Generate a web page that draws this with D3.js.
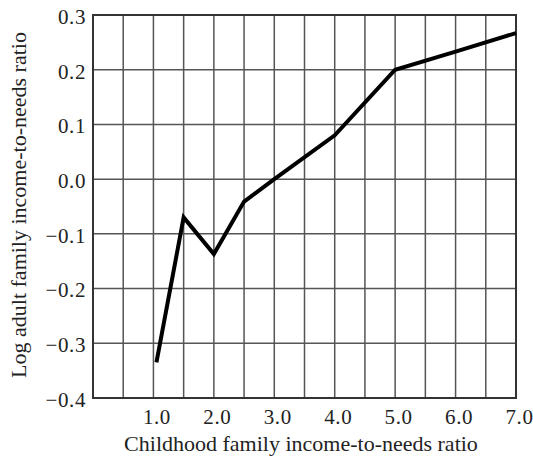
<!DOCTYPE html>
<html><head><meta charset="utf-8">
<script src="https://cdn.jsdelivr.net/npm/d3@7"></script>
<style>body{margin:0;background:#fff}svg{display:block}text{font-family:"Liberation Serif","Times New Roman",serif;fill:#222}</style>
</head><body><div id="chart"></div>
<script>
const xValues = [1.05, 1.5, 2.0, 2.5, 3.0, 4.0, 5.0, 6.0, 7.0];
const yValues = [-0.335, -0.07, -0.137, -0.041, 0.0, 0.08, 0.2, 0.233, 0.267];
const xTicks = [1, 2, 3, 4, 5, 6, 7];
const yTicks = [-0.4, -0.3, -0.2, -0.1, 0.0, 0.1, 0.2, 0.3];
const xTitle = "Childhood family income-to-needs ratio";
const yTitle = "Log adult family income-to-needs ratio";

const W = 533, H = 457;
const m = {left: 93, right: 17, top: 15, bottom: 59};
const svg = d3.select("#chart").append("svg").attr("width", W).attr("height", H);
const x = d3.scaleLinear().domain([0, 7]).range([m.left, W - m.right]);
const y = d3.scaleLinear().domain([-0.4, 0.3]).range([H - m.bottom, m.top]);

const g = svg.append("g");
const vGrid = d3.range(1, 14).map(i => i * 0.5);
g.selectAll(".vg").data(vGrid).join("line")
  .attr("x1", d => x(d)).attr("x2", d => x(d))
  .attr("y1", y(-0.4)).attr("y2", y(0.3))
  .attr("stroke", "#555").attr("stroke-width", 1.5);
g.selectAll(".hg").data(yTicks.slice(1, -1)).join("line")
  .attr("y1", d => y(d)).attr("y2", d => y(d))
  .attr("x1", x(0)).attr("x2", x(7))
  .attr("stroke", "#555").attr("stroke-width", 1.5);
g.append("rect").attr("x", x(0)).attr("y", y(0.3))
  .attr("width", x(7) - x(0)).attr("height", y(-0.4) - y(0.3))
  .attr("fill", "none").attr("stroke", "#333").attr("stroke-width", 2);

const fmt = d => { const s = d3.format(".1f")(Math.abs(d)); return (d < -1e-9 ? "\u2212" : "") + s; };
const xAxis = d3.axisBottom(x).tickValues(xTicks).tickFormat(d3.format(".1f")).tickSize(0).tickPadding(11);
const yAxis = d3.axisLeft(y).tickValues(yTicks).tickFormat(fmt).tickSize(0).tickPadding(7);
const gx = svg.append("g").attr("transform", `translate(0,${y(-0.4)})`).call(xAxis);
const gy = svg.append("g").attr("transform", `translate(${x(0)},0)`).call(yAxis);
[gx, gy].forEach(a => { a.select(".domain").remove(); a.selectAll("text").style("font-size", "21px").style("letter-spacing", "0.6px").attr("fill", "#222"); });
gx.selectAll("text").attr("dx", "3");
gy.selectAll("text").attr("dy", "0.4em");

svg.append("path")
  .datum(xValues.map((v, i) => [v, yValues[i]]))
  .attr("fill", "none").attr("stroke", "#000").attr("stroke-width", 4)
  .attr("stroke-linejoin", "miter")
  .attr("d", d3.line().x(d => x(d[0])).y(d => y(d[1])));

svg.append("text").attr("x", 301).attr("y", 451)
  .attr("text-anchor", "middle").style("font-size", "22px").text(xTitle);
svg.append("text").attr("transform", `translate(26,205) rotate(-90)`)
  .attr("text-anchor", "middle").style("font-size", "22px").text(yTitle);
</script></body></html>
